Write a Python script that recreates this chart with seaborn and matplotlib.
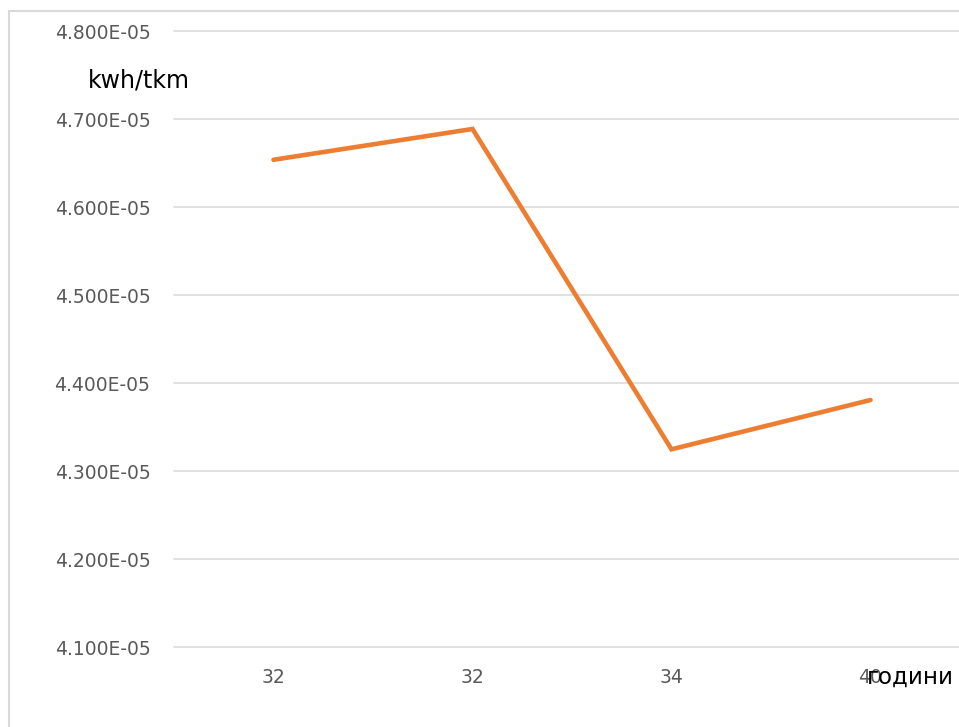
import matplotlib
matplotlib.use("Agg")
import matplotlib.pyplot as plt
from matplotlib.patches import Rectangle
from matplotlib.ticker import FuncFormatter
import seaborn as sns
import pandas as pd

# Specific energy consumption per category
categories = ["32", "32", "34", "40"]
consumption = [4.654e-05, 4.689e-05, 4.325e-05, 4.381e-05]
y_ticks = [4.1e-05, 4.2e-05, 4.3e-05, 4.4e-05, 4.5e-05, 4.6e-05, 4.7e-05, 4.8e-05]

df = pd.DataFrame({"pos": range(len(categories)), "value": consumption})

sns.set_theme(style="white")
plt.rcParams["font.family"] = ["DejaVu Sans"]

W, H = 959, 727
fig = plt.figure(figsize=(W / 100, H / 100), dpi=100)
fig.patch.set_facecolor("white")

# outer chart-area frame (runs past the right and bottom edges)
fig.add_artist(Rectangle((9 / W, -0.5), 1.5, 1.5 - 11 / H,
                         transform=fig.transFigure, fill=False,
                         edgecolor="#D9D9D9", linewidth=1.5))

left, right = 174, 970
top, bottom = 31.3, 647.3
ax = fig.add_axes([left / W, 1 - bottom / H, (right - left) / W, (bottom - top) / H])
ax.set_facecolor("none")

sns.lineplot(data=df, x="pos", y="value", ax=ax, color="#ED7D31",
             linewidth=3.3, solid_capstyle="round", solid_joinstyle="miter",
             clip_on=False, zorder=3)

ax.set_xlim(-0.5, len(categories) - 0.5)
ax.set_ylim(y_ticks[0], y_ticks[-1])
ax.set_yticks(y_ticks)
ax.yaxis.set_major_formatter(FuncFormatter(lambda v, p: f"{v:.3E}"))
ax.set_xticks(range(len(categories)))
ax.set_xticklabels(categories)

ax.grid(axis="y", color="#D9D9D9", linewidth=1.1)
for gl in ax.get_ygridlines():
    gl.set_clip_on(False)
ax.set_axisbelow(True)
for s in ax.spines.values():
    s.set_visible(False)
ax.tick_params(axis="both", length=0, labelsize=13.5, labelcolor="#595959")
ax.tick_params(axis="y", pad=17)
ax.tick_params(axis="x", pad=15)
ax.set_xlabel("")
ax.set_ylabel("")

fig.text(88 / W, 1 - 81 / H, "kwh/tkm", fontsize=17, color="black",
         ha="left", va="center")
fig.text(867 / W, 1 - 677 / H, "години", fontsize=16.5, color="black",
         ha="left", va="center")

fig.savefig("out.png", dpi=100)
